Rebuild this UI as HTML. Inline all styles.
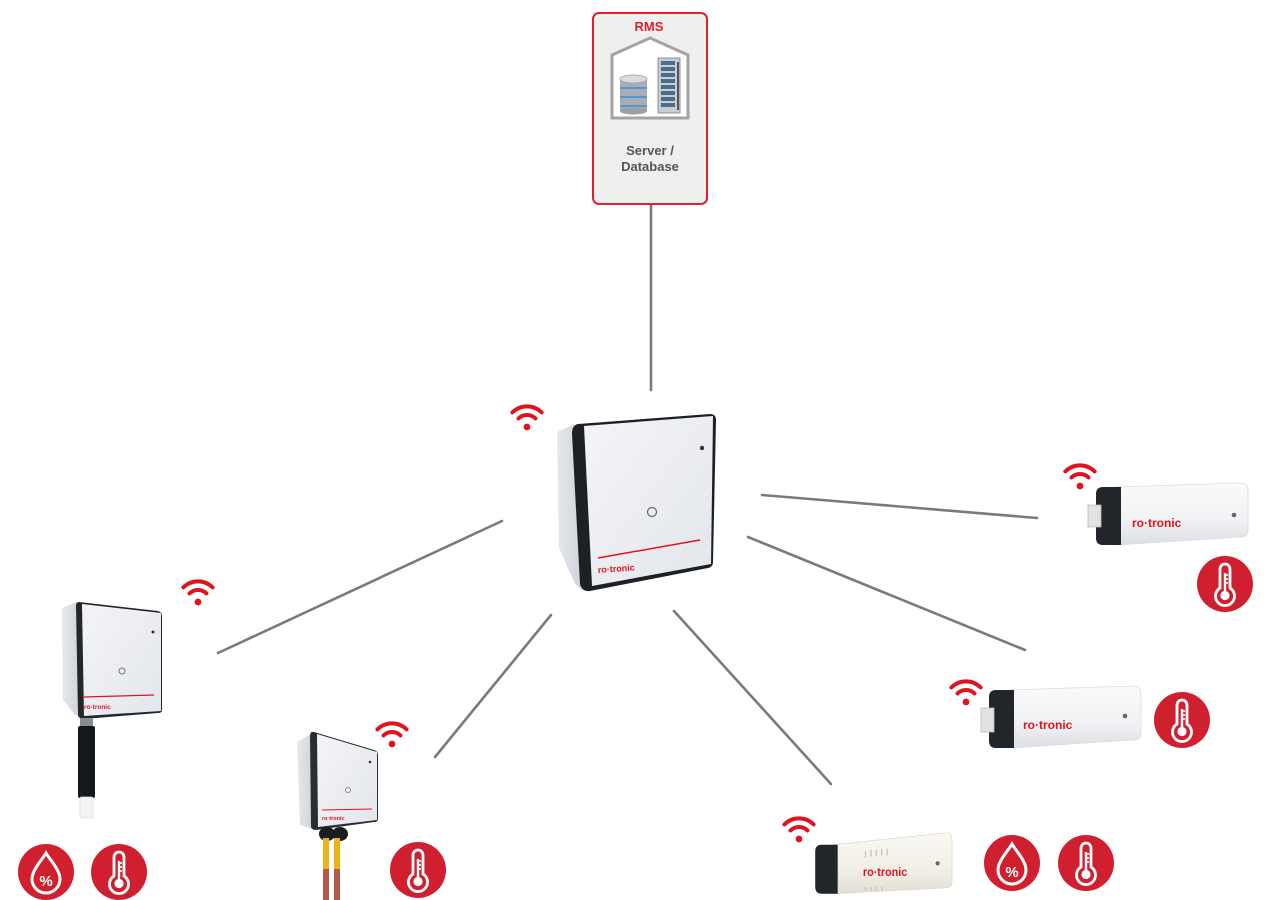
<!DOCTYPE html>
<html><head><meta charset="utf-8"><style>
html,body{margin:0;padding:0;background:#fff;}
svg{display:block;}
text{font-family:"Liberation Sans",sans-serif;}
</style></head><body>
<svg width="1282" height="900" viewBox="0 0 1282 900" xmlns="http://www.w3.org/2000/svg">
<defs>
  <g id="wifi">
    <circle cx="0" cy="0" r="3.4" fill="#e0141e"/>
    <path d="M-8.5,-8.5 A12,12 0 0 1 8.5,-8.5" fill="none" stroke="#e0141e" stroke-width="4" stroke-linecap="round"/>
    <path d="M-14.6,-14.6 A20.6,20.6 0 0 1 14.6,-14.6" fill="none" stroke="#e0141e" stroke-width="4" stroke-linecap="round"/>
  </g>
  <g id="thermo">
    <circle r="28" fill="#d01f2e"/>
    <path d="M-5,4 V-15 A5,5 0 0 1 5,-15 V4 A9.5,9.5 0 1 1 -5,4 Z" fill="none" stroke="#fff" stroke-width="2.8"/>
    <line x1="0" y1="-11" x2="0" y2="10" stroke="#fff" stroke-width="2.4"/>
    <circle cx="0" cy="11.5" r="4.6" fill="#fff"/>
    <line x1="0" y1="-9" x2="3" y2="-9" stroke="#fff" stroke-width="1.6"/>
    <line x1="0" y1="-5" x2="3" y2="-5" stroke="#fff" stroke-width="1.6"/>
    <line x1="0" y1="-1" x2="3" y2="-1" stroke="#fff" stroke-width="1.6"/>
  </g>
  <g id="humid">
    <circle r="28" fill="#d01f2e"/>
    <path d="M0,-19 C-4,-12 -14,-2 -14,7 A14,14 0 0 0 14,7 C14,-2 4,-12 0,-19 Z" fill="none" stroke="#fff" stroke-width="3"/>
    <text x="0" y="14" text-anchor="middle" font-size="15" font-weight="bold" fill="#fff">%</text>
  </g>
  <linearGradient id="face" x1="0" y1="0" x2="1" y2="1">
    <stop offset="0" stop-color="#f3f4f7"/><stop offset="1" stop-color="#e3e6eb"/>
  </linearGradient>
  <linearGradient id="side" x1="0" y1="0" x2="1" y2="0">
    <stop offset="0" stop-color="#e6e8eb"/><stop offset="1" stop-color="#cfd3d8"/>
  </linearGradient>
  <linearGradient id="body" x1="0" y1="0" x2="0" y2="1">
    <stop offset="0" stop-color="#fafafb"/><stop offset="0.6" stop-color="#f1f2f4"/><stop offset="1" stop-color="#dcdfe3"/>
  </linearGradient>
  <linearGradient id="cream" x1="0" y1="0" x2="0" y2="1">
    <stop offset="0" stop-color="#faf8f3"/><stop offset="0.6" stop-color="#f2efe7"/><stop offset="1" stop-color="#e2ded4"/>
  </linearGradient>
</defs>

<!-- connectors -->
<g stroke="#7a7a7a" stroke-width="2.6" stroke-linecap="round">
  <line x1="651" y1="205" x2="651" y2="390"/>
  <line x1="502" y1="521" x2="218" y2="653"/>
  <line x1="551" y1="615" x2="435" y2="757"/>
  <line x1="674" y1="611" x2="831" y2="784"/>
  <line x1="748" y1="537" x2="1025" y2="650"/>
  <line x1="762" y1="495" x2="1037" y2="518"/>
</g>

<!-- RMS box -->
<rect x="593" y="13" width="114" height="191" rx="6" fill="#efefef" stroke="#e2202b" stroke-width="2"/>
<text x="649" y="31" text-anchor="middle" font-size="13" font-weight="bold" fill="#e2202b">RMS</text>
<path d="M612,55 L650,38 L688,55 L688,118 L612,118 Z" fill="#fff" stroke="#a3a3a3" stroke-width="3" stroke-linejoin="miter"/>
<g>
  <rect x="620" y="79" width="27" height="32" fill="#a8adb3"/>
  <ellipse cx="633.5" cy="111" rx="13.5" ry="3.5" fill="#9aa0a6"/>
  <line x1="620" y1="88" x2="647" y2="88" stroke="#3a8fd8" stroke-width="1.6"/>
  <line x1="620" y1="97" x2="647" y2="97" stroke="#3a8fd8" stroke-width="1.6"/>
  <line x1="620" y1="106" x2="647" y2="106" stroke="#3a8fd8" stroke-width="1.6"/>
  <ellipse cx="633.5" cy="79" rx="13.5" ry="4" fill="#d9dcdf" stroke="#9aa0a6" stroke-width="0.8"/>
</g>
<g>
  <rect x="658" y="58" width="22" height="55" fill="#c9ccd0" stroke="#8c9197" stroke-width="1"/>
  <rect x="661" y="61" width="14" height="4" fill="#4a6d8c"/>
  <rect x="661" y="67" width="14" height="4" fill="#4a6d8c"/>
  <rect x="661" y="73" width="14" height="4" fill="#4a6d8c"/>
  <rect x="661" y="79" width="14" height="4" fill="#4a6d8c"/>
  <rect x="661" y="85" width="14" height="4" fill="#4a6d8c"/>
  <rect x="661" y="91" width="14" height="4" fill="#4a6d8c"/>
  <rect x="661" y="97" width="14" height="4" fill="#4a6d8c"/>
  <rect x="661" y="103" width="14" height="4" fill="#4a6d8c"/>
  <rect x="677" y="62" width="2" height="48" fill="#555"/>
</g>
<text x="650" y="155" text-anchor="middle" font-size="13" font-weight="bold" fill="#555">Server /</text>
<text x="650" y="171" text-anchor="middle" font-size="13" font-weight="bold" fill="#555">Database</text>

<!-- central gateway -->
<use href="#wifi" x="527" y="427"/>
<polygon points="557,432 574,424 582,590 575,584 559,548" fill="url(#side)"/>
<path d="M578,424 L710,414 Q716,414 716,420 L713,562 Q713,567 708,568 L590,591 Q582,592 580,584 L572,434 Q572,425 578,424 Z" fill="#1d2126"/>
<path d="M584,426 L713,416 L711,564 L592,586 Z" fill="url(#face)"/>
<circle cx="702" cy="448" r="2.2" fill="#333"/>
<circle cx="652" cy="512" r="4.5" fill="none" stroke="#6a6f75" stroke-width="1.3"/>
<line x1="598" y1="558" x2="700" y2="540" stroke="#e0141e" stroke-width="1.5"/>
<text x="598" y="573" font-size="9" font-weight="bold" fill="#e0141e" transform="rotate(-4 598 573)">ro·tronic</text>

<!-- left device with probe -->
<use href="#wifi" x="198" y="602"/>
<polygon points="62,608 77,602 80,717 74,714 63,700" fill="url(#side)"/>
<path d="M79,602 L158,611 Q162,612 162,616 L162,710 Q162,713 158,713 L84,719 Q78,719 78,714 L76,606 Q76,602 79,602 Z" fill="#23272c"/>
<path d="M82,604 L161,613 L161,711 L84,716 Z" fill="url(#face)"/>
<circle cx="153" cy="632" r="1.5" fill="#333"/>
<circle cx="122" cy="671" r="3" fill="none" stroke="#777" stroke-width="1"/>
<line x1="84" y1="697" x2="154" y2="695" stroke="#e0141e" stroke-width="1.2"/>
<text x="84" y="709" font-size="6.5" font-weight="bold" fill="#e0141e">ro·tronic</text>
<rect x="80" y="718" width="13" height="9" fill="#8a8d90"/>
<rect x="78" y="726" width="17" height="72" rx="2" fill="#15181b"/>
<rect x="80" y="797" width="13" height="21" rx="1.5" fill="#f3f3f3" stroke="#ddd" stroke-width="0.8"/>
<use href="#humid" x="46" y="872"/>
<use href="#thermo" x="119" y="872"/>

<!-- lower-left device with cables -->
<use href="#wifi" x="392" y="744"/>
<polygon points="297,742 313,733 313,829 300,825" fill="url(#side)"/>
<path d="M314,732 L374,750 Q378,751 378,755 L378,819 Q378,822 374,822 L316,830 Q311,830 311,826 L310,736 Q310,731 314,732 Z" fill="#2a2e33"/>
<path d="M317,734 L377,752 L377,820 L318,827 Z" fill="url(#face)"/>
<circle cx="370" cy="762" r="1.3" fill="#333"/>
<circle cx="348" cy="790" r="2.6" fill="none" stroke="#888" stroke-width="0.9"/>
<line x1="322" y1="810" x2="372" y2="809" stroke="#e0141e" stroke-width="1"/>
<text x="322" y="820" font-size="5.5" font-weight="bold" fill="#e0141e">ro·tronic</text>
<ellipse cx="327" cy="834" rx="8" ry="7" fill="#1a1c1e"/>
<ellipse cx="340" cy="834" rx="8" ry="7" fill="#1a1c1e"/>
<rect x="323" y="838" width="6" height="31" fill="#e8b418"/>
<rect x="334" y="838" width="6" height="31" fill="#e8b418"/>
<rect x="323" y="869" width="6" height="31" fill="#b4584c"/>
<rect x="334" y="869" width="6" height="31" fill="#b4584c"/>
<use href="#thermo" x="418" y="870"/>

<!-- right upper logger -->
<use href="#wifi" x="1080" y="486"/>
<g transform="translate(1088,483)">
  <path d="M28,4 L152,0 Q160,0 160,8 L160,48 Q160,54 152,54 L28,62 Z" fill="url(#body)" stroke="#d8dbdf" stroke-width="0.8"/>
  <path d="M15,4 L33,4 L33,62 L15,62 Q8,62 8,55 L8,11 Q8,4 15,4 Z" fill="#22262b"/>
  <rect x="0" y="22" width="13" height="22" fill="#e2e2e2" stroke="#bbb" stroke-width="0.8"/>
  <text x="44" y="44" font-size="12" font-weight="bold" fill="#e0141e">ro·tronic</text>
  <circle cx="146" cy="32" r="2.3" fill="#666"/>
</g>
<use href="#thermo" x="1225" y="584"/>

<!-- right middle logger -->
<use href="#wifi" x="966" y="702"/>
<g transform="translate(981,686)">
  <path d="M28,4 L152,0 Q160,0 160,8 L160,48 Q160,54 152,54 L28,62 Z" fill="url(#body)" stroke="#d8dbdf" stroke-width="0.8"/>
  <path d="M15,4 L33,4 L33,62 L15,62 Q8,62 8,55 L8,11 Q8,4 15,4 Z" fill="#22262b"/>
  <rect x="0" y="22" width="13" height="24" fill="#e2e2e2" stroke="#bbb" stroke-width="0.8"/>
  <text x="42" y="43" font-size="12" font-weight="bold" fill="#e0141e">ro·tronic</text>
  <circle cx="144" cy="30" r="2.3" fill="#666"/>
</g>
<use href="#thermo" x="1182" y="720"/>

<!-- lower logger (cream) -->
<use href="#wifi" x="799" y="839"/>
<g transform="translate(808,831) scale(0.9,0.98)">
  <path d="M28,14 L152,2 Q160,1 160,9 L160,52 Q160,58 152,58 L28,64 Z" fill="url(#cream)" stroke="#dcd8cf" stroke-width="0.8"/>
  <path d="M15,14 L33,14 L33,64 L15,64 Q8,64 8,57 L8,21 Q8,14 15,14 Z" fill="#22262b"/>
  <g stroke="#c9c5bb" stroke-width="1.6">
    <line x1="64" y1="20" x2="64" y2="27"/><line x1="70" y1="19" x2="70" y2="26"/><line x1="76" y1="19" x2="76" y2="26"/><line x1="82" y1="18" x2="82" y2="25"/><line x1="88" y1="18" x2="88" y2="25"/>
    <line x1="64" y1="57" x2="64" y2="61"/><line x1="70" y1="57" x2="70" y2="61"/><line x1="76" y1="57" x2="76" y2="61"/><line x1="82" y1="57" x2="82" y2="61"/>
  </g>
  <text x="61" y="46" font-size="12" font-weight="bold" fill="#e0141e">ro·tronic</text>
  <circle cx="144" cy="33" r="2.3" fill="#666"/>
</g>
<use href="#humid" x="1012" y="863"/>
<use href="#thermo" x="1086" y="863"/>
</svg>
</body></html>
